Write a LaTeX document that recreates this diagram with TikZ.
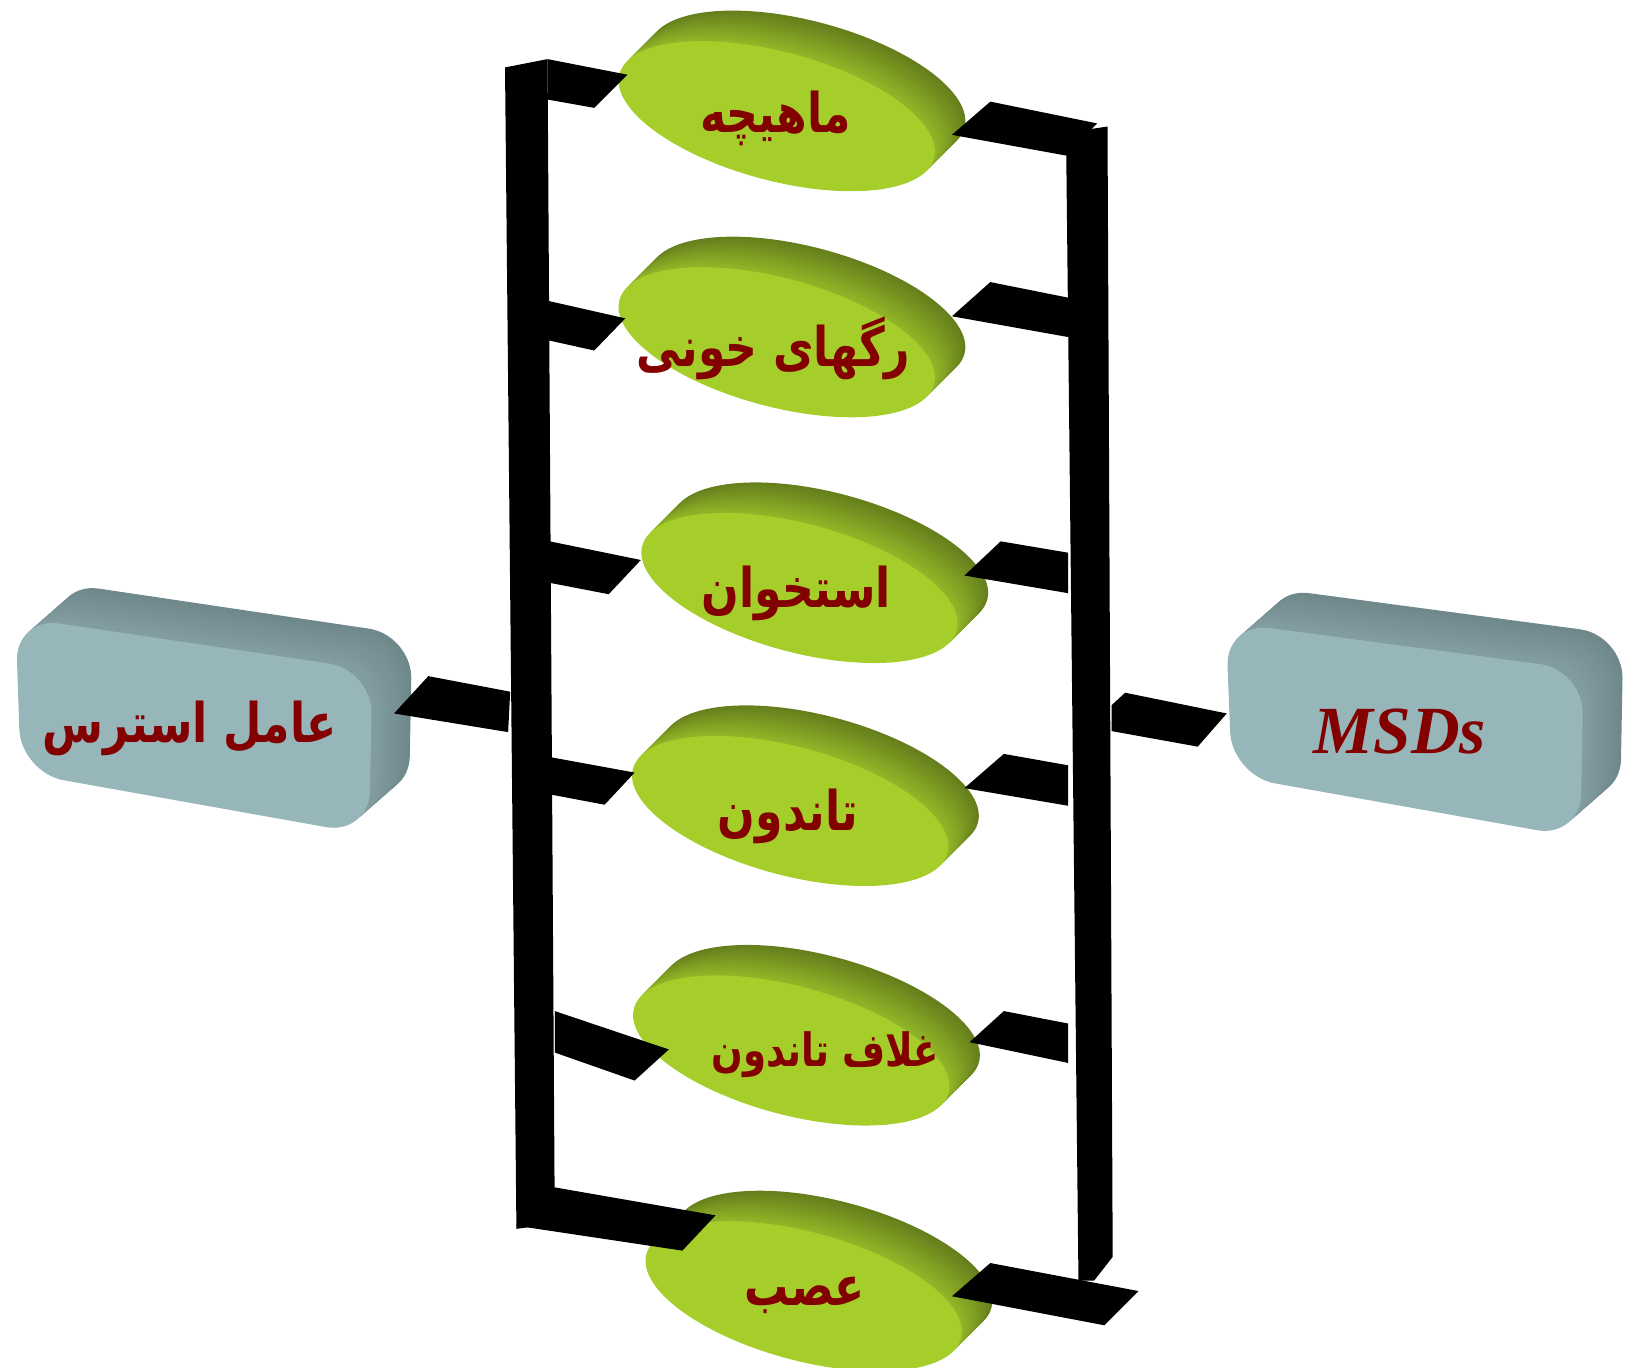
\documentclass[tikz,border=0pt]{standalone}
\usepackage{fontspec}
\usepackage{graphicx}
\setmainfont{Liberation Serif}
\newfontfamily\fa[Script=Arabic]{DejaVu Sans}
\TeXXeTstate=1
\definecolor{face}{HTML}{A6CE2B}
\definecolor{rimlight}{HTML}{93B828}
\definecolor{rimdark}{HTML}{667F1C}
\definecolor{boxface}{HTML}{97B6BA}
\definecolor{boxlight}{HTML}{849FA3}
\definecolor{boxdark}{HTML}{6F888C}
\definecolor{txt}{HTML}{820000}
\newcommand\mydisc[2]{%
  \foreach \i in {14,13,...,1}{%
    \pgfmathsetmacro\p{100*\i/14}%
    \begin{scope}[shift={(#1+\i*2.1,#2-\i*2.1)},rotate=-15]
      \fill[rimdark!\p!rimlight] (0,0) ellipse [x radius=157,y radius=62];
    \end{scope}
  }
  \begin{scope}[shift={(#1,#2)},rotate=-15]
    \fill[face] (0,0) ellipse [x radius=157,y radius=62];
  \end{scope}
}
\newcommand\mybox[4]{%
  \foreach \i in {12,11,...,1}{%
    \pgfmathsetmacro\p{100*\i/12}%
    \fill[boxdark!\p!boxlight, rounded corners=24, shift={(\i*3.2,-\i*2.8)}] #1 -- #2 -- #3 -- #4 -- cycle;
  }
  \fill[boxface, rounded corners=24] #1 -- #2 -- #3 -- #4 -- cycle;
}
\newcommand\fatxt[1]{\scalebox{0.97}[1.2]{\beginR #1\endR}}
\tikzset{
  fatext/.style={text=txt, font=\fa\bfseries\fontsize{25}{30}\selectfont, inner sep=0pt},
  entext/.style={text=txt, font=\bfseries\itshape\fontsize{37}{40}\selectfont, inner sep=0pt},
  bar/.style={fill=black}
}
\begin{document}
\begin{tikzpicture}[x=0.02cm,y=-0.02cm]
\useasboundingbox (0,0) rectangle (1568,1319);
% boxes
\mybox{(15,595)}{(359,646)}{(356,805)}{(20,745)}
\mybox{(1182,600)}{(1527,646)}{(1524,808)}{(1188,748)}
% discs
\mydisc{749}{112}
\mydisc{749}{330}
\mydisc{771}{567}
\mydisc{762}{782}
\mydisc{763}{1013}
\mydisc{775}{1250}
% bars
\fill[bar] (487,65) -- (528,57) -- (535,1180) -- (498,1185) -- cycle;
\fill[bar] (1028,128) -- (1068,122) -- (1073,1212) -- (1055,1235) -- (1040,1235) -- cycle;
% left arms
\fill[bar] (528,57) -- (605,72) -- (573,104) -- (528,96) -- cycle;
\fill[bar] (528,290) -- (603,307) -- (573,338) -- (528,328) -- cycle;
\fill[bar] (530,522) -- (618,540) -- (587,573) -- (530,562) -- cycle;
\fill[bar] (530,730) -- (612,745) -- (583,776) -- (530,766) -- cycle;
\fill[bar] (535,975) -- (645,1012) -- (612,1042) -- (535,1015) -- cycle;
\fill[bar] (535,1145) -- (690,1172) -- (658,1206) -- (498,1182) -- cycle;
\fill[bar] (413,652) -- (492,667) -- (490,706) -- (380,688) -- cycle;
% right arms
\fill[bar] (955,98) -- (1058,119) -- (1028,150) -- (918,130) -- cycle;
\fill[bar] (955,272) -- (1030,287) -- (1030,325) -- (918,305) -- cycle;
\fill[bar] (965,522) -- (1030,533) -- (1030,572) -- (930,555) -- cycle;
\fill[bar] (968,727) -- (1030,738) -- (1030,777) -- (930,760) -- cycle;
\fill[bar] (968,975) -- (1030,987) -- (1030,1025) -- (935,1005) -- cycle;
\fill[bar] (955,1218) -- (1098,1245) -- (1065,1278) -- (918,1250) -- cycle;
\fill[bar] (1072,680) -- (1085,668) -- (1183,688) -- (1155,720) -- (1072,705) -- cycle;
% texts
\node[fatext] (t1) at (748,114) {\fatxt{ماهیچه}};
\node[fatext] (t2) at (746,336) {\fatxt{رگهای خونی}};
\node[fatext] (t3) at (768,572) {\fatxt{استخوان}};
\node[fatext] (t4) at (760,787) {\fatxt{تاندون}};
\node[fatext, font=\fa\bfseries\fontsize{21}{26}\selectfont] (t5) at (796,1017) {\fatxt{غلاف تاندون}};
\node[fatext] (t6) at (776,1249) {\fatxt{عصب}};
\node[fatext] (t7) at (183,702) {\fatxt{عامل استرس}};
\node[entext] (t8) at (1350,705) {MSDs};
\end{tikzpicture}
\end{document}
